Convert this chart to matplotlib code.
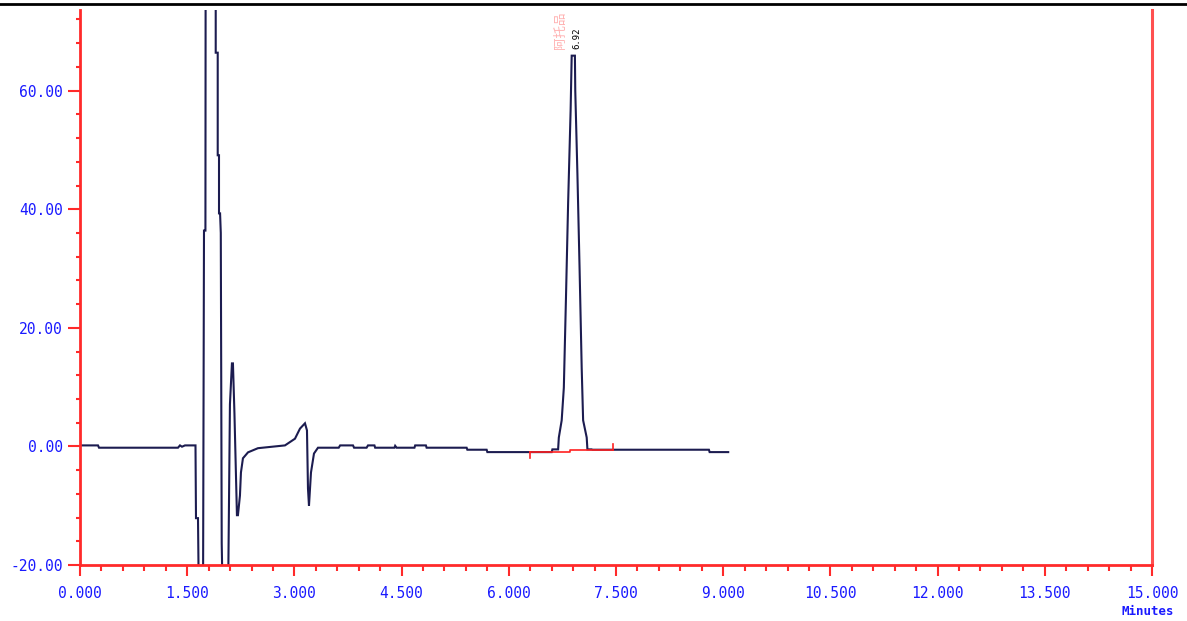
import matplotlib
matplotlib.use('Agg')
import matplotlib.pyplot as plt
from matplotlib.lines import Line2D
from matplotlib.ticker import MultipleLocator, FormatStrFormatter

# chromatogram trace (minutes, signal)
time = [0.000, 0.252, 0.266, 1.371, 1.399, 1.427, 1.469, 1.616, 1.623, 1.651,
        1.665, 1.721, 1.735, 1.755, 1.759, 1.899, 1.899, 1.927, 1.927, 1.945,
        1.945, 1.960, 1.970, 1.983, 2.000, 2.070, 2.098, 2.126, 2.140, 2.161,
        2.196, 2.210, 2.238, 2.252, 2.280, 2.351, 2.490, 2.868, 3.008, 3.078,
        3.148, 3.176, 3.190, 3.204, 3.232, 3.274, 3.330, 3.620, 3.640, 3.820,
        3.835, 4.010, 4.030, 4.120, 4.130, 4.400, 4.410, 4.430, 4.680, 4.690,
        4.840, 4.850, 5.410, 5.420, 5.690, 5.700, 6.600, 6.610, 6.690, 6.700,
        6.740, 6.770, 6.800, 6.830, 6.865, 6.880, 6.925, 6.930, 6.960, 6.990,
        7.020, 7.040, 7.090, 7.100, 7.160, 7.170, 8.800, 8.810, 9.070]
signal = [0.17, 0.17, -0.22, -0.22, 0.17, -0.05, 0.17, 0.17, -12.1, -12.1,
          -28.0, -28.0, 36.4, 36.4, 95.0, 95.0, 66.4, 66.4, 49.1, 49.1,
          39.3, 39.3, 36.0, -16.4, -28.0, -28.0, 7.1, 14.0, 14.0, 5.6,
          -11.6, -11.6, -8.3, -4.4, -2.0, -1.0, -0.3, 0.17, 1.3, 3.0,
          3.9, 2.7, -7.1, -10.0, -4.4, -1.2, -0.22, -0.22, 0.17, 0.17,
          -0.22, -0.22, 0.17, 0.17, -0.22, -0.22, 0.10, -0.22, -0.22, 0.17,
          0.17, -0.22, -0.22, -0.56, -0.56, -0.96, -0.96, -0.50, -0.50, 1.5,
          4.4, 9.9, 25.1, 41.0, 56.7, 65.9, 65.9, 60.0, 46.0, 30.2,
          13.2, 4.4, 1.5, -0.5, -0.5, -0.56, -0.56, -0.96, -0.96]

# integration baseline (red) under the 6.92 peak
base_time = [6.296, 6.856, 6.856, 7.453]
base_value = [-0.96, -0.96, -0.56, -0.56]
base_ticks = [(6.296, -0.96, -2.0), (7.453, -0.56, 0.34)]

peak_time = 6.92
peak_label = '6.92'
peak_name = '阿托品'

x_range = (0, 15)
y_range = (-20, 73.6)

fig = plt.figure(figsize=(11.87, 6.21), dpi=100)
ax = fig.add_axes([80 / 1187, 1 - 565 / 621, (1152 - 80) / 1187, (565 - 10) / 621])

ax.plot(time, signal, color='#1c1c50', lw=1.5, solid_joinstyle='miter')
ax.plot(base_time, base_value, color='#ff2020', lw=1.2)
for t, y0, y1 in base_ticks:
    ax.plot([t, t], [y0, y1], color='#ff2020', lw=1.2)

ax.set_xlim(*x_range)
ax.set_ylim(*y_range)

red = '#ff2a2a'
blue = '#1a1aff'
for s in ['left', 'bottom']:
    ax.spines[s].set_color(red)
    ax.spines[s].set_linewidth(2)
ax.spines['right'].set_color('#ff5050')
ax.spines['right'].set_linewidth(2.2)
ax.spines['top'].set_visible(False)

ax.xaxis.set_major_locator(MultipleLocator(1.5))
ax.xaxis.set_minor_locator(MultipleLocator(0.3))
ax.yaxis.set_major_locator(MultipleLocator(20))
ax.yaxis.set_minor_locator(MultipleLocator(4))
ax.xaxis.set_major_formatter(FormatStrFormatter('%.3f'))
ax.yaxis.set_major_formatter(FormatStrFormatter('%.2f'))

ax.tick_params(axis='x', which='major', length=8, width=1.5, color=red, pad=7,
               labelsize=10.5, labelcolor=blue)
ax.tick_params(axis='x', which='minor', length=4, width=1.5, color=red)
ax.tick_params(axis='y', which='major', length=8.5, width=1.5, color=red, pad=4,
               labelsize=10.5, labelcolor=blue)
ax.tick_params(axis='y', which='minor', length=3, width=1.5, color=red)
for lab in ax.get_xticklabels() + ax.get_yticklabels():
    lab.set_family('DejaVu Sans Mono')

ax.text(6.955, 67, peak_label, rotation=90, ha='center', va='bottom',
        fontsize=6.5, color='black', family='DejaVu Sans Mono')
ax.text(6.73, 67, peak_name, rotation=90, ha='center', va='bottom',
        fontsize=9, color='#ffb0b0', family=['Noto Sans CJK SC', 'DejaVu Sans'])

fig.text(1122 / 1187, 1 - 615 / 621, 'Minutes', color=blue, fontsize=9,
         fontweight='bold', family='DejaVu Sans Mono', ha='left', va='baseline')

fig.add_artist(Line2D([0, 1], [1 - 4 / 621, 1 - 4 / 621], color='black', lw=2,
                      transform=fig.transFigure))

fig.savefig('out.png', dpi=100)
